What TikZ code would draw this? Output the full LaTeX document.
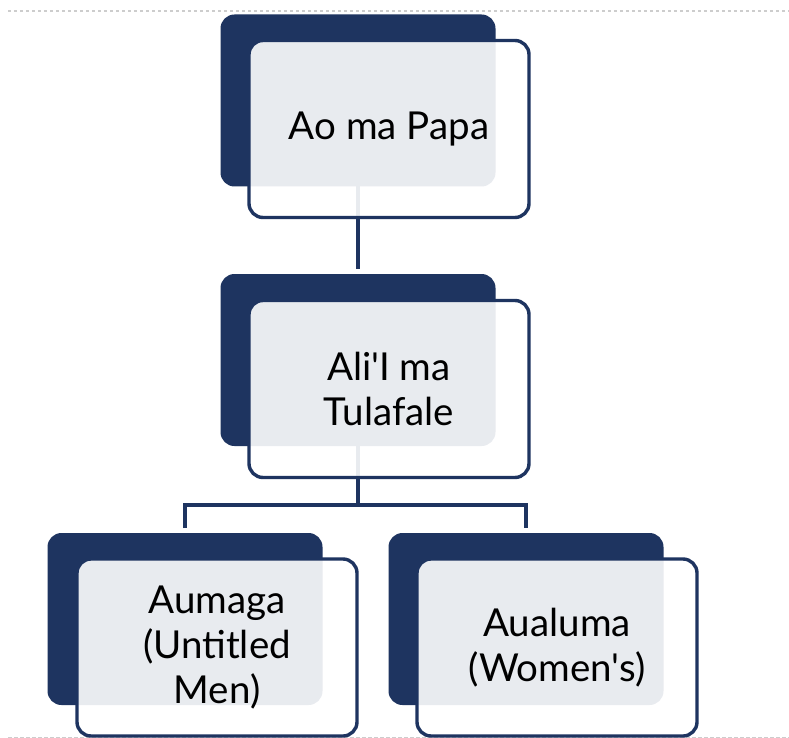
\documentclass[tikz,border=0pt]{standalone}
\usepackage{fontspec}
\setmainfont{Lato}[Ligatures=TeXOff]
\definecolor{navy}{RGB}{30,52,96}
\definecolor{dotgrey}{RGB}{205,205,205}
\begin{document}
\begin{tikzpicture}[x=1pt,y=-1pt,
  darkbox/.style={fill=navy, rounded corners=14pt, minimum width=275pt, minimum height=172pt, inner sep=0pt, outer sep=0pt},
  whitebox/.style={draw=navy, line width=3.4pt, fill=white, fill opacity=0.9, text opacity=1, rounded corners=14pt, minimum width=280pt, minimum height=177pt, inner sep=0pt, outer sep=0pt, align=center, font=\fontsize{38.5}{45}\selectfont},
  conn/.style={draw=navy, line width=3.4pt},
  dots/.style={draw=dotgrey, line width=2pt, dash pattern=on 2.5pt off 3.5pt}]
\useasboundingbox (0,0) rectangle (789,738);
\fill[white] (0,0) rectangle (789,738);
\draw[dots] (8,11) -- (789,11);
\draw[draw=dotgrey, line width=1pt, dash pattern=on 4pt off 2pt] (8,737) -- (789,737);
% dark boxes
\node[darkbox] (d1) at (358,100.5) {};
\node[darkbox] (d2) at (358,360) {};
\node[darkbox] (d3) at (185,619) {};
\node[darkbox] (d4) at (526,619) {};
% connectors (behind white boxes)
\coordinate (bus) at (358,505);
\draw[conn, shorten >=5pt] (d1.south) -- (d2.north);
\draw[conn] (d2.south) -- (bus);
\draw[conn, shorten <=5pt, shorten >=5pt] (d3.north) |- (bus) -| (d4.north);
% white boxes
\node[whitebox] (w1) at (389,129) {Ao ma Papa};
\node[whitebox] (w2) at (389,389) {Ali'I ma\\Tulafale};
\node[whitebox] (w3) at (217,647.5) {Aumaga\\(Untitled\\Men)};
\node[whitebox] (w4) at (557,647.5) {Aualuma\\(Women's)};
\end{tikzpicture}
\end{document}
